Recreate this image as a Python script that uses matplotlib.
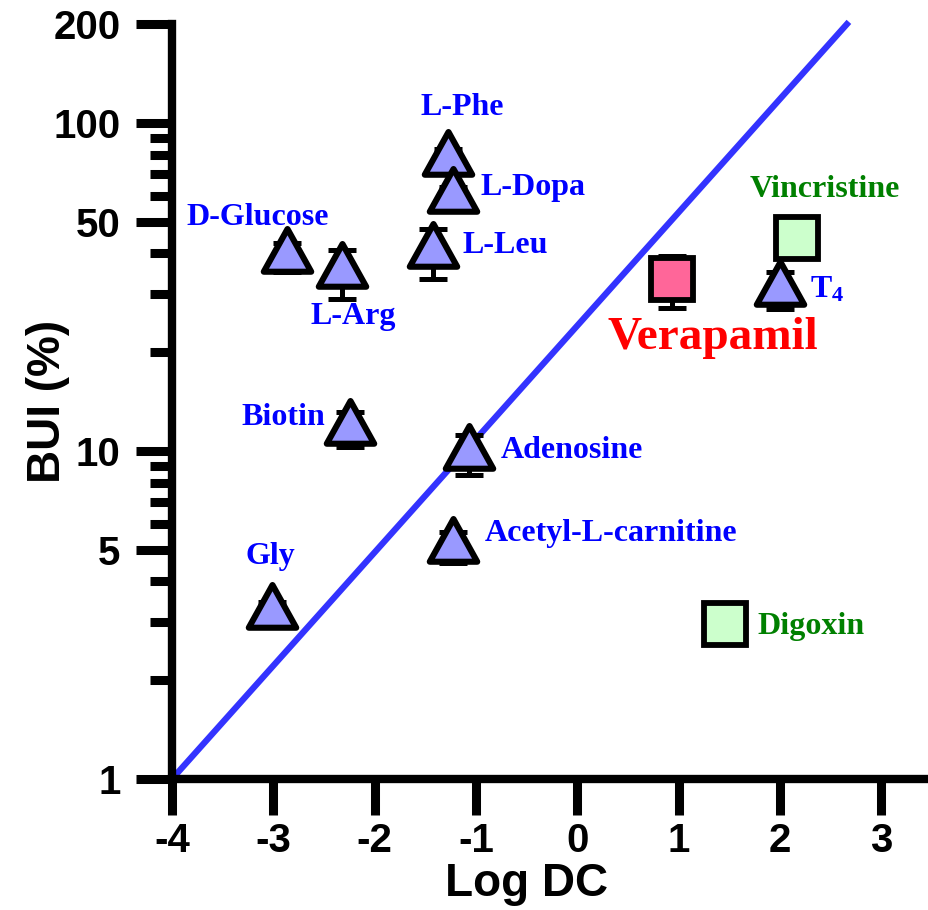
import matplotlib
matplotlib.use("Agg")
import matplotlib.pyplot as plt
from matplotlib.path import Path
from matplotlib.ticker import FixedLocator, NullFormatter

# data
names = ["D-Glucose", "L-Arg", "L-Phe", "L-Dopa", "L-Leu", "Biotin",
         "Adenosine", "Acetyl-L-carnitine", "Gly", "T4"]
log_dc = [-2.865, -2.32, -1.275, -1.226, -1.42, -2.24, -1.07, -1.226, -3.01, 2.0]
bui = [39.0, 35.0, 77.0, 59.5, 40.5, 11.7, 9.8, 5.1, 3.2, 31.0]
bui_sd = [4.0, 6.0, 6.0, 4.0, 7.0, 1.45, 1.35, 0.55, 0.27, 4.0]

ref_names = ["Verapamil"]
ref_dc = [0.936]
ref_bui = [33.3]
ref_sd = [6.0]

efflux_names = ["Vincristine", "Digoxin"]
efflux_dc = [2.17, 1.46]
efflux_bui = [44.5, 2.97]

# reference line: log10(BUI) = slope * (logDC + 4)
line_x = [-4.0, 2.68]
line_y = [1.0, 203.0]

y_major = [1, 5, 10, 50, 100, 200]
y_minor = [2, 3, 4, 6, 7, 8, 9, 20, 30, 40, 60, 70, 80, 90]
x_ticks = [-4, -3, -2, -1, 0, 1, 2, 3]

plt.rcParams["mathtext.fontset"] = "custom"
plt.rcParams["mathtext.bf"] = "Liberation Serif:bold"
plt.rcParams["mathtext.rm"] = "Liberation Serif:bold"

fig = plt.figure(figsize=(9.29, 9.10), dpi=100)
ax = fig.add_axes([172 / 929, 131 / 910, 760 / 929, 755 / 910])

# triangle centred on its centroid (like the original software)
tri = Path([(0, 0.6), (-0.5, -0.3), (0.5, -0.3), (0, 0.6)],
           [Path.MOVETO, Path.LINETO, Path.LINETO, Path.CLOSEPOLY])

ax.plot(line_x, line_y, color="#3333ff", lw=4.5, clip_on=False, zorder=2,
        solid_capstyle="butt")

ax.errorbar(log_dc, bui, yerr=bui_sd, fmt="none", ecolor="black",
            elinewidth=3.6, capsize=10, capthick=3.6, zorder=3, clip_on=False)
ax.errorbar(ref_dc, ref_bui, yerr=ref_sd, fmt="none", ecolor="black",
            elinewidth=3.6, capsize=10, capthick=3.6, zorder=3)

ax.plot(log_dc, bui, ls="none", marker=tri, ms=41, mfc="#9999ff",
        mec="black", mew=4.4, zorder=4, clip_on=False)
ax.plot(ref_dc, ref_bui, ls="none", marker="s", ms=30, mfc="#ff6699",
        mec="black", mew=4.2, zorder=4)
ax.plot(efflux_dc, efflux_bui, ls="none", marker="s", ms=30, mfc="#ccffcc",
        mec="black", mew=4.2, zorder=4)

lab = dict(family="Liberation Serif", weight="bold", fontsize=23)
blue = "#0000ff"
green = "#008000"
ax.text(-1.14, 111.7, "L-Phe", color=blue, ha="center", va="center", **lab)
ax.text(-0.96, 63.3, "L-Dopa", color=blue, ha="left", va="center", **lab)
ax.text(-1.13, 42.4, "L-Leu", color=blue, ha="left", va="center", **lab)
ax.text(-3.15, 51.6, "D-Glucose", color=blue, ha="center", va="center", **lab)
ax.text(-2.21, 25.6, "L-Arg", color=blue, ha="center", va="center", **lab)
ax.text(-2.49, 12.6, "Biotin", color=blue, ha="right", va="center", **lab)
ax.text(-0.76, 10.06, "Adenosine", color=blue, ha="left", va="center", **lab)
ax.text(-0.91, 5.62, "Acetyl-L-carnitine", color=blue, ha="left", va="center", **lab)
ax.text(-3.03, 4.75, "Gly", color=blue, ha="center", va="center", **lab)
ax.text(2.30, 31.0, r"$\mathbf{T_4}$", color=blue, ha="left", va="center", **lab)
ax.text(2.446, 62.4, "Vincristine", color=green, ha="center", va="center", **lab)
ax.text(1.775, 2.91, "Digoxin", color=green, ha="left", va="center", **lab)
ax.text(1.34, 22.1, "Verapamil", color="#ff0000", ha="center", va="center",
        family="Liberation Serif", weight="bold", fontsize=34)

ax.set_yscale("log")
ax.set_ylim(1, 200)
ax.set_xlim(-4, 3.5)
ax.yaxis.set_major_locator(FixedLocator(y_major))
ax.yaxis.set_minor_locator(FixedLocator(y_minor))
ax.yaxis.set_minor_formatter(NullFormatter())
ax.set_yticklabels([str(v) for v in y_major])
ax.set_xticks(x_ticks)
ax.set_xticklabels([str(v) for v in x_ticks])

for s in ["top", "right"]:
    ax.spines[s].set_visible(False)
for s in ["left", "bottom"]:
    ax.spines[s].set_linewidth(6)
ax.tick_params(which="major", length=26, width=6.5, pad=11)
ax.tick_params(which="minor", length=16, width=6.5)
ax.tick_params(axis="x", which="major", pad=5)
for t in ax.get_xticklabels() + ax.get_yticklabels():
    t.set_family("Liberation Sans")
    t.set_weight("bold")
    t.set_fontsize(29)

ax.set_xlabel("Log DC", family="Liberation Sans", weight="bold", fontsize=33)
ax.set_ylabel("BUI (%)", family="Liberation Sans", weight="bold", fontsize=33)
ax.xaxis.set_label_coords(0.467, -0.11)
ax.yaxis.set_label_coords(-0.134, 0.5)

fig.savefig("out.png", dpi=100)
